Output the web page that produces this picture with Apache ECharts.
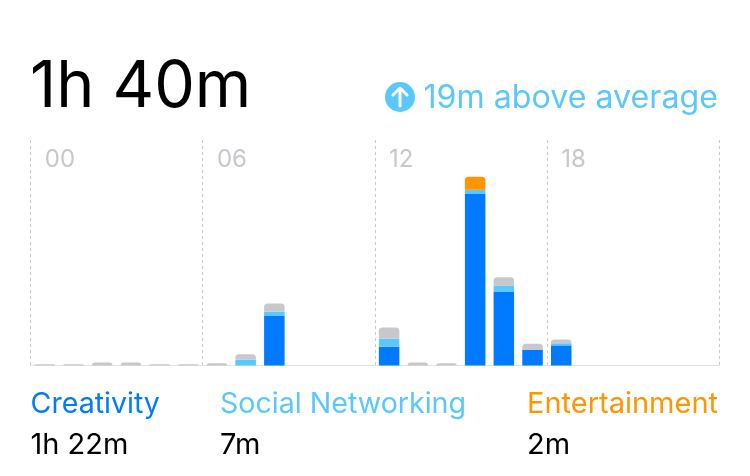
<!DOCTYPE html>
<html><head><meta charset="utf-8">
<style>html,body{margin:0;padding:0;background:#fff}#c{width:750px;height:476px}</style>
<script src="https://cdn.jsdelivr.net/npm/echarts@6/dist/echarts.min.js"></script>
</head><body><div id="c"></div>
<script>
const hours = ['00','01','02','03','04','05','06','07','08','09','10','11','12','13','14','15','16','17','18','19','20','21','22','23'];
const creativity = [0,0,0,0,0,0,0,0,11.7,0,0,0,4.4,0,0,40.2,17.3,3.7,4.7,0,0,0,0,0];
const social =     [0,0,0,0,0,0,0,1.4,0.9,0,0,0,1.9,0,0,0.9,1.4,0,0.5,0,0,0,0,0];
const entertainment=[0,0,0,0,0,0,0,0,0,0,0,0,0,0,0,3.0,0,0,0,0,0,0,0,0];
const other =      [0.3,0.3,0.7,0.7,0.3,0.3,0.5,1.2,1.9,0,0,0,2.6,0.7,0.5,0,1.9,1.4,0.9,0,0,0,0,0];
const yMax = 52.7;
const total = '1h 40m', delta = '19m above average';
const legendNames = ['Creativity','Social Networking','Entertainment'];
const legendValues = ['1h 22m','7m','2m'];
const BLUE='#007AFF', LIGHT='#5AC8FA', ORANGE='#FF9500', GRAY='#C7C7CC';
const FONT='Inter';
const stack=[[creativity,BLUE],[social,LIGHT],[entertainment,ORANGE],[other,GRAY]];
function topIdx(i){let t=-1;stack.forEach((s,k)=>{if(s[0][i]>0)t=k;});return t;}
const series=stack.map(([vals,color],k)=>({
  type:'bar',stack:'t',barWidth:20.5,silent:true,
  itemStyle:{color},
  data:vals.map((v,i)=>({value:v,itemStyle:{borderRadius:topIdx(i)===k?[3.5,3.5,0,0]:0}}))
}));
function txt(x,y,text,size,fill,align){return {type:'text',x,y,style:{text,fontFamily:FONT,fontSize:size,fill,align:align||'left',verticalAlign:'middle'}};}
const chart=echarts.init(document.getElementById('c'),null,{renderer:'canvas'});
chart.setOption({
  animation:false,backgroundColor:'#fff',
  grid:{left:30.5,right:31,top:140,bottom:110.5},
  xAxis:[
   {type:'category',data:hours,position:'top',
    axisLine:{show:false},axisTick:{show:false},
    axisLabel:{inside:true,interval:5,align:'left',margin:8,color:GRAY,fontFamily:FONT,fontSize:24},
    splitLine:{show:true,interval:5,lineStyle:{color:'#c9c9cc',type:[3,3],width:1}}},
   {type:'category',data:hours,position:'bottom',
    axisLine:{show:true,lineStyle:{color:'#e2e2e4',width:1}},axisTick:{show:false},axisLabel:{show:false},splitLine:{show:false}}
  ],
  yAxis:{type:'value',min:0,max:yMax,show:false,splitLine:{show:false}},
  series,
  graphic:[
    txt(30,88,total,64.5,'#000'),
    {type:'circle',shape:{cx:400,cy:97,r:15},style:{fill:LIGHT}},
    {type:'polyline',shape:{points:[[400,106],[400,89]]},style:{stroke:'#fff',lineWidth:3,lineCap:'round',fill:null}},
    {type:'polyline',shape:{points:[[393,95],[400,88],[407,95]]},style:{stroke:'#fff',lineWidth:3,lineCap:'round',lineJoin:'round',fill:null}},
    txt(718,98,delta,32.2,LIGHT,'right'),
    txt(30.5,404,legendNames[0],28.6,BLUE),
    txt(220,404,legendNames[1],28.6,LIGHT),
    txt(718,404,legendNames[2],29,ORANGE,'right'),
    txt(30.5,445,legendValues[0],29,'#000'),
    txt(220,445,legendValues[1],29,'#000'),
    txt(527,445,legendValues[2],29,'#000')
  ]
});
</script></body></html>
